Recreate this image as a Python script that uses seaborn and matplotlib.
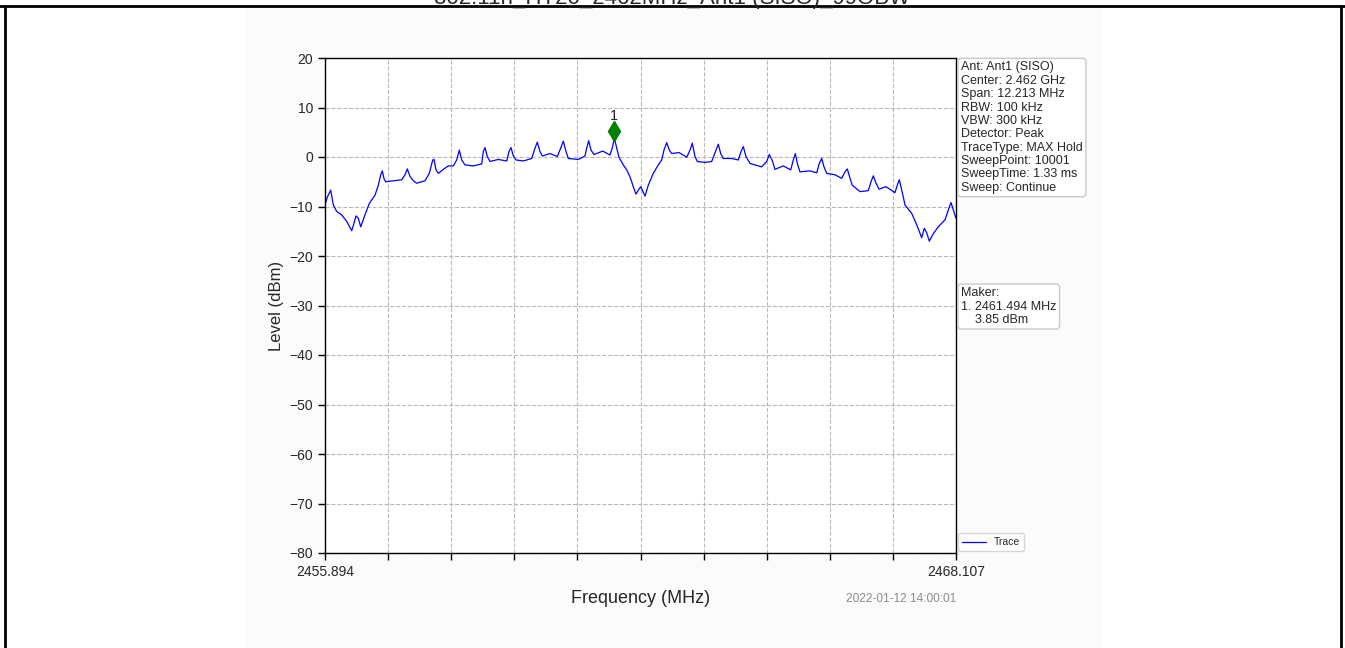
import matplotlib
matplotlib.use("Agg")
import matplotlib.pyplot as plt
import seaborn as sns
import numpy as np
from matplotlib.patches import Rectangle
from matplotlib.lines import Line2D

# Spectrum trace (MHz, dBm)
freq_mhz = [
    2455.894, 2455.939, 2456.004, 2456.055, 2456.120, 2456.217, 2456.314, 2456.411, 2456.455, 2456.494,
    2456.539, 2456.585, 2456.668, 2456.751, 2456.862, 2456.926, 2456.978, 2457.003, 2457.036, 2457.069,
    2457.216, 2457.379, 2457.442, 2457.487, 2457.539, 2457.603, 2457.669, 2457.830, 2457.913, 2457.979,
    2458.004, 2458.042, 2458.087, 2458.184, 2458.281, 2458.377, 2458.443, 2458.493, 2458.540, 2458.604,
    2458.764, 2458.927, 2458.958, 2458.991, 2459.035, 2459.088, 2459.248, 2459.411, 2459.455, 2459.494,
    2459.539, 2459.591, 2459.732, 2459.895, 2459.959, 2460.003, 2460.055, 2460.100, 2460.249, 2460.390,
    2460.456, 2460.506, 2460.559, 2460.603, 2460.797, 2460.926, 2460.959, 2460.998, 2461.042, 2461.101,
    2461.269, 2461.410, 2461.462, 2461.494, 2461.540, 2461.584, 2461.668, 2461.733, 2461.797, 2461.861,
    2461.913, 2461.958, 2462.004, 2462.088, 2462.151, 2462.248, 2462.345, 2462.411, 2462.455, 2462.508,
    2462.558, 2462.604, 2462.746, 2462.895, 2462.959, 2463.003, 2463.055, 2463.100, 2463.249, 2463.379,
    2463.462, 2463.506, 2463.553, 2463.603, 2463.766, 2463.893, 2463.946, 2463.990, 2464.042, 2464.120,
    2464.217, 2464.346, 2464.443, 2464.493, 2464.546, 2464.604, 2464.764, 2464.908, 2464.958, 2464.997,
    2465.043, 2465.088, 2465.281, 2465.411, 2465.461, 2465.508, 2465.552, 2465.604, 2465.765, 2465.895,
    2465.959, 2466.003, 2466.055, 2466.100, 2466.249, 2466.410, 2466.462, 2466.506, 2466.559, 2466.617,
    2466.752, 2466.926, 2466.971, 2467.010, 2467.068, 2467.120, 2467.250, 2467.346, 2467.443, 2467.493,
    2467.540, 2467.590, 2467.668, 2467.764, 2467.894, 2467.958, 2468.010, 2468.055, 2468.107,
]
level_dbm = [
    -9.7, -8.1, -6.7, -9.7, -11.0, -11.7, -13.0, -14.9, -13.4, -11.9,
    -12.4, -14.1, -11.7, -9.4, -7.7, -5.7, -3.4, -2.8, -4.4, -5.0,
    -4.8, -4.6, -3.6, -2.4, -3.9, -4.8, -5.3, -4.8, -3.3, -0.6,
    -0.5, -2.6, -3.3, -2.5, -1.8, -1.8, -0.6, 1.4, -0.6, -1.6,
    -1.8, -1.4, 1.1, 1.9, 0.1, -0.9, -0.5, -0.8, 1.1, 1.9,
    0.2, -0.6, -0.8, -0.3, 1.8, 3.0, 1.1, 0.2, 0.7, 0.1,
    1.8, 3.2, 1.1, -0.3, -0.5, 0.2, 1.8, 3.3, 1.4, 0.5,
    1.2, 0.4, 2.1, 3.85, 1.8, -0.05, -1.6, -2.6, -4.0, -6.0,
    -7.5, -6.7, -6.0, -7.9, -5.7, -3.3, -1.6, -0.6, 1.4, 2.9,
    1.4, 0.7, 0.9, -0.05, 1.4, 2.8, 0.1, -0.9, -1.1, -0.9,
    1.4, 2.6, 0.7, -0.3, -0.3, -0.6, 1.1, 2.1, 0.1, -1.3,
    -1.6, -2.0, -0.9, 0.5, -0.6, -2.5, -1.8, -2.6, -0.6, 0.7,
    -1.6, -3.0, -2.8, -3.2, -1.3, -0.3, -2.0, -3.3, -3.6, -4.3,
    -3.0, -2.4, -4.3, -5.7, -7.0, -6.8, -5.0, -3.8, -5.3, -6.5,
    -6.0, -7.2, -5.7, -4.6, -7.2, -9.7, -11.4, -13.7, -16.3, -14.4,
    -15.3, -17.0, -15.5, -14.1, -12.7, -10.7, -9.2, -10.7, -12.4,
]

start_mhz = 2455.894
stop_mhz = 2468.107
marker_freq = 2461.494
marker_level = 3.85

info_lines = [
    "Ant: Ant1 (SISO)",
    "Center: 2.462 GHz",
    "Span: 12.213 MHz",
    "RBW: 100 kHz",
    "VBW: 300 kHz",
    "Detector: Peak",
    "TraceType: MAX Hold",
    "SweepPoint: 10001",
    "SweepTime: 1.33 ms",
    "Sweep: Continue",
]
marker_lines = ["Maker:", "1. 2461.494 MHz", "    3.85 dBm"]
title_text = "802.11n_HT20_2462MHz_Ant1 (SISO)_99OBW"
timestamp = "2022-01-12 14:00:01"

sns.set_style("ticks")
plt.rcParams["font.family"] = ["Liberation Sans", "DejaVu Sans"]

W, H = 1345, 648
fig = plt.figure(figsize=(W / 100, H / 100), dpi=100)
fig.patch.set_facecolor("white")

# page frame around the embedded plot
fig.add_artist(Rectangle((245 / W, 0), (1102 - 245) / W, 1 - 8 / H,
                         transform=fig.transFigure, facecolor="#fbfbfb",
                         edgecolor="none", zorder=0))
fig.add_artist(Line2D([0, 1], [1 - 6 / H] * 2, transform=fig.transFigure, color="black", lw=2))
fig.add_artist(Line2D([5 / W] * 2, [0, 1 - 6 / H], transform=fig.transFigure, color="black", lw=2))
fig.add_artist(Line2D([1341 / W] * 2, [0, 1 - 6 / H], transform=fig.transFigure, color="black", lw=2))
# title of the page, mostly clipped at the top edge as in the source
fig.text(672 / W, 1 - 4 / H, title_text, ha="center", va="baseline", fontsize=16)

ax = fig.add_axes([325 / W, 1 - 553 / H, 631 / W, 495 / H])
ax.set_facecolor("white")

sns.lineplot(x=freq_mhz, y=level_dbm, ax=ax, color="blue", linewidth=0.9, label="Trace")
ax.plot([marker_freq], [marker_level + 1.5], marker="d", color="green", markersize=10, linestyle="none")
ax.text(marker_freq, marker_level + 3.0, "1", ha="center", va="bottom", fontsize=10.5)

ax.set_xlim(start_mhz, stop_mhz)
ax.set_ylim(-80, 20)
xt = np.linspace(start_mhz, stop_mhz, 11)
ax.set_xticks(xt)
ax.set_xticklabels([f"{start_mhz:.3f}"] + [""] * 9 + [f"{stop_mhz:.3f}"])
ax.set_yticks(np.arange(-80, 21, 10))
ax.tick_params(labelsize=10, length=5, width=1, color="black")
ax.grid(True, linestyle="--", color="#b8b8b8", linewidth=0.8)
for s in ax.spines.values():
    s.set_color("black")
    s.set_linewidth(1)

ax.set_xlabel("Frequency (MHz)", fontsize=13, labelpad=8)
ax.set_ylabel("Level (dBm)", fontsize=12)

box = dict(boxstyle="round,pad=0.25", facecolor="white", edgecolor="#c8c8c8")
ax.text(1.008, 0.993, "\n".join(info_lines), transform=ax.transAxes, ha="left", va="top",
        fontsize=9, linespacing=1.15, bbox=box)
ax.text(1.008, 0.537, "\n".join(marker_lines), transform=ax.transAxes, ha="left", va="top",
        fontsize=9, linespacing=1.15, bbox=box)
ax.legend(loc="lower left", bbox_to_anchor=(1.0, 0.0), fontsize=7.5, frameon=True,
          handlelength=2.3, borderaxespad=0.15)
ax.text(1.0, -0.093, timestamp, transform=ax.transAxes, ha="right", va="center",
        fontsize=8.6, color="#8c8c8c")

fig.savefig("out.png", dpi=100, facecolor=fig.get_facecolor())
